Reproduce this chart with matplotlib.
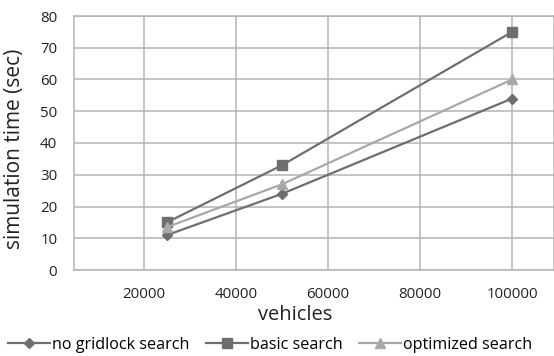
import matplotlib
matplotlib.use('Agg')
import matplotlib.pyplot as plt

plt.rcParams['font.family'] = ['Open Sans', 'DejaVu Sans']

# data
vehicles = [25000, 50000, 100000]
no_gridlock = [11, 24, 54]
basic = [15, 33, 75]
optimized = [13.5, 27, 60]

dark = '#6e6e6e'
light = '#a8a8a8'
W, H = 554, 356

fig = plt.figure(figsize=(5.54, 3.56), dpi=100)
ax = fig.add_axes([74 / W, 86 / H, 480 / W, 254 / H])

ax.plot(vehicles, no_gridlock, color=dark, lw=1.6, marker='D', ms=5.5,
        label='no gridlock search')
ax.plot(vehicles, basic, color=dark, lw=1.6, marker='s', ms=7,
        label='basic search')
ax.plot(vehicles, optimized, color=light, lw=1.6, marker='^', ms=7.5,
        label='optimized search')

ax.set_xlim(4800, 109100)
ax.set_ylim(0, 80)
ax.set_xticks([20000, 40000, 60000, 80000, 100000])
ax.set_yticks(range(0, 81, 10))
ax.grid(True, color='#b4b4b4', lw=1.1)
ax.set_axisbelow(True)
for s in ax.spines.values():
    s.set_color('#b4b4b4')
    s.set_linewidth(1.1)
ax.tick_params(length=0, labelsize=10.8, colors='#222222', pad=12)

# axis titles placed like the original
fig.text(295 / W, 1 - 315 / H, 'vehicles', fontsize=14.5, color='#222222',
         ha='center', va='center')
fig.text(15 / W, 1 - 149 / H, 'simulation time (sec)', fontsize=15, color='#222222',
         ha='center', va='center', rotation=90)

fig.legend(loc='center', bbox_to_anchor=(270 / W, 1 - 345 / H), ncol=3, frameon=False,
           fontsize=11.6, handlelength=2.6, columnspacing=1.0, handletextpad=0.15,
           borderaxespad=0, borderpad=0)

fig.savefig('out.png', dpi=100)
